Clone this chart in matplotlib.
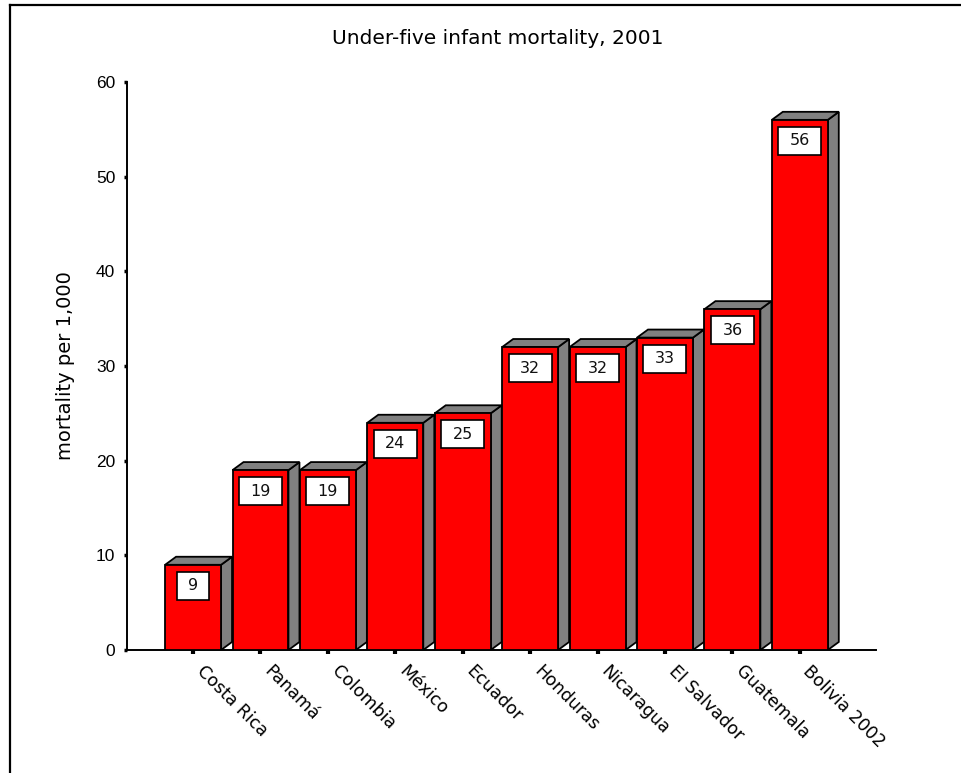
import matplotlib
matplotlib.use("Agg")
import matplotlib.pyplot as plt
import numpy as np
from matplotlib.patches import Polygon, Rectangle
from matplotlib.lines import Line2D
from matplotlib.transforms import ScaledTranslation

countries = ["Costa Rica", "Panamá", "Colombia", "México", "Ecuador",
             "Honduras", "Nicaragua", "El Salvador", "Guatemala", "Bolivia 2002"]
mortality = [9, 19, 19, 24, 25, 32, 32, 33, 36, 56]
yticks = [0, 10, 20, 30, 40, 50, 60]

FRONT = "#ff0000"
SIDE = "#808080"
W = 0.83          # front face width (category units)
DX, DY = 0.163, 0.85   # depth offset of the 3d faces

fig = plt.figure(figsize=(9.61, 7.73), dpi=100)
fig.patch.set_facecolor("white")
ax = fig.add_axes([127 / 961, 1 - 650 / 773, 749 / 961, 568 / 773])

x = np.arange(len(countries))
ax.bar(x, mortality, W, color=FRONT, edgecolor="black", linewidth=1.3, zorder=3)

for xi, v, name in zip(x, mortality, countries):
    xl, xr = xi - W / 2, xi + W / 2
    side = Polygon([(xr, 0), (xr + DX, DY), (xr + DX, v + DY), (xr, v)],
                   closed=True, fc=SIDE, ec="black", lw=1.3, zorder=2)
    top = Polygon([(xl, v), (xr, v), (xr + DX, v + DY), (xl + DX, v + DY)],
                  closed=True, fc=SIDE, ec="black", lw=1.3, zorder=2)
    ax.add_patch(side)
    ax.add_patch(top)

    # value label in a white box near the top of the front face
    s = str(v)
    bw = 0.21 + 0.11 * len(s)
    trans = fig.dpi_scale_trans + ScaledTranslation(xi, v, ax.transData)
    ax.add_patch(Rectangle((-bw / 2, -0.35), bw, 0.28, transform=trans,
                           fc="white", ec="black", lw=1.2, zorder=4,
                           clip_on=False))
    ax.text(0, -0.21, s, transform=trans, ha="center", va="center",
            fontsize=11.5, family="DejaVu Sans", color="#111111", zorder=5)

    # slanted category label, starting just right of the tick
    ax.annotate(name, xy=(xi, 0), xytext=(9, -8.5), textcoords="offset points",
                rotation=-45, ha="left", va="top", rotation_mode="anchor",
                fontsize=12.5, family="DejaVu Sans", annotation_clip=False)

ax.set_xlim(-0.98, 10.13)
ax.set_ylim(0, 60)
ax.set_yticks(yticks)
ax.set_yticklabels([str(t) for t in yticks], fontsize=12.5,
                   family="Liberation Sans")
ax.set_xticks(x)
ax.set_xticklabels([])
ax.tick_params(axis="y", length=2.5, width=2.5, pad=6, direction="out")
ax.tick_params(axis="x", length=3, width=3, pad=6, direction="out")

ax.spines[["top", "right"]].set_visible(False)
ax.spines["left"].set_linewidth(1.4)
ax.spines["bottom"].set_linewidth(1.4)

ax.set_ylabel("mortality per 1,000", fontsize=14, family="DejaVu Sans",
              labelpad=15)
fig.text(498 / 961, 1 - 38 / 773, "Under-five infant mortality, 2001",
         ha="center", va="center", fontsize=14.5, family="DejaVu Sans")

# outer frame (only top and left edges visible)
fig.add_artist(Line2D([10 / 961, 10 / 961], [0, 1 - 5 / 773],
                      transform=fig.transFigure, color="black", lw=1.6))
fig.add_artist(Line2D([10 / 961, 1], [1 - 5 / 773, 1 - 5 / 773],
                      transform=fig.transFigure, color="black", lw=1.6))

fig.savefig("out.png", dpi=100, facecolor="white")
